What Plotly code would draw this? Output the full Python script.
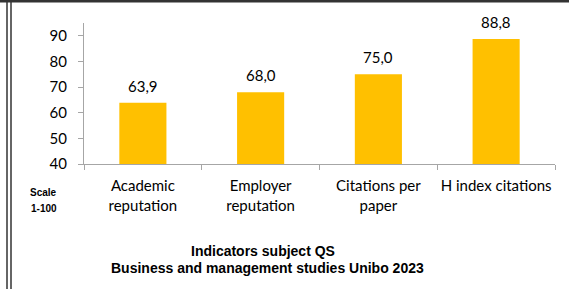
import plotly.graph_objects as go

categories = ["Academic<br>reputation", "Employer<br>reputation", "Citations per<br>paper", "H index citations"]
values = [63.9, 68.0, 75.0, 88.8]
y_ticks = [40, 50, 60, 70, 80, 90]
title_lines = ["Indicators subject QS", "Business and management studies Unibo 2023"]
scale_lines = ["Scale", "1-100"]

W, H = 569, 289
ML, MR, MT, MB = 84, 14, 23, 125
PW = W - ML - MR
PH = H - MT - MB


def px(x):
    return (x - ML) / PW


def py(y):
    return (H - MB - y) / PH


LABEL_FONT = "Lato, Open Sans, sans-serif"
TITLE_FONT = "Liberation Sans Narrow, Liberation Sans, Arial, sans-serif"
AXIS_COLOR = "#a6a6a6"

fig = go.Figure(
    go.Bar(
        x=categories,
        y=values,
        width=0.4,
        marker=dict(color="#FFC000", line=dict(width=0)),
        cliponaxis=False,
        hoverinfo="skip",
    )
)

annotations = []
for c, v in zip(categories, values):
    annotations.append(dict(
        text=f"{v:.1f}".replace(".", ","), x=c, y=v, xref="x", yref="y",
        xanchor="center", yanchor="bottom", yshift=6, showarrow=False,
        font=dict(family=LABEL_FONT, size=15, color="#000000")))

annotations += [
    dict(text="<b>" + title_lines[0] + "</b>", x=px(263), y=py(250.5), xref="paper", yref="paper",
         xanchor="center", yanchor="middle", showarrow=False,
         font=dict(family=TITLE_FONT, size=14, color="#000000")),
    dict(text="<b>" + title_lines[1] + "</b>", x=px(267.5), y=py(268), xref="paper", yref="paper",
         xanchor="center", yanchor="middle", showarrow=False,
         font=dict(family=TITLE_FONT, size=14, color="#000000")),
    dict(text="<b>" + scale_lines[0] + "</b>", x=px(43), y=py(192), xref="paper", yref="paper",
         xanchor="center", yanchor="middle", showarrow=False,
         font=dict(family=TITLE_FONT, size=10, color="#000000")),
    dict(text="<b>" + scale_lines[1] + "</b>", x=px(44), y=py(208), xref="paper", yref="paper",
         xanchor="center", yanchor="middle", showarrow=False,
         font=dict(family=TITLE_FONT, size=10, color="#000000")),
]

line_color = "#333333"
shapes = [
    dict(type="line", xref="paper", yref="paper", x0=px(0), x1=px(W), y0=py(1.5), y1=py(1.5),
         line=dict(color=line_color, width=2)),
    dict(type="line", xref="paper", yref="paper", x0=px(7), x1=px(7), y0=py(-1), y1=py(H),
         line=dict(color=line_color, width=1.5)),
    dict(type="line", xref="paper", yref="paper", x0=px(11), x1=px(11), y0=py(-1), y1=py(H),
         line=dict(color=line_color, width=1.5)),
]

fig.update_layout(
    width=W,
    height=H,
    margin=dict(l=ML, r=MR, t=MT, b=MB, pad=0, autoexpand=False),
    paper_bgcolor="#ffffff",
    plot_bgcolor="#ffffff",
    showlegend=False,
    annotations=annotations,
    shapes=shapes,
    xaxis=dict(
        type="category",
        range=[-0.5, 3.5],
        automargin=False,
        showline=True,
        linecolor=AXIS_COLOR,
        linewidth=1,
        ticks="outside",
        tickson="boundaries",
        ticklen=5,
        tickcolor=AXIS_COLOR,
        tickangle=0,
        ticklabelstandoff=8,
        tickfont=dict(family=LABEL_FONT, size=15, color="#000000"),
        showgrid=False,
        zeroline=False,
    ),
    yaxis=dict(
        range=[40, 95],
        tickvals=y_ticks,
        automargin=False,
        showline=True,
        linecolor=AXIS_COLOR,
        linewidth=1,
        ticks="outside",
        ticklen=5,
        tickcolor=AXIS_COLOR,
        tickfont=dict(family=LABEL_FONT, size=15, color="#000000"),
        ticklabelstandoff=8,
        showgrid=False,
        zeroline=False,
    ),
)

post = (
    "document.body.style.margin='0';"
    "var d=document.createElement('div');"
    "d.style.cssText='position:fixed;top:0;left:0;width:100%;height:2px;background:#333333;z-index:10;pointer-events:none';"
    "document.body.appendChild(d);"
)

fig.write_html("out.html", config={"displayModeBar": False}, post_script=post)
